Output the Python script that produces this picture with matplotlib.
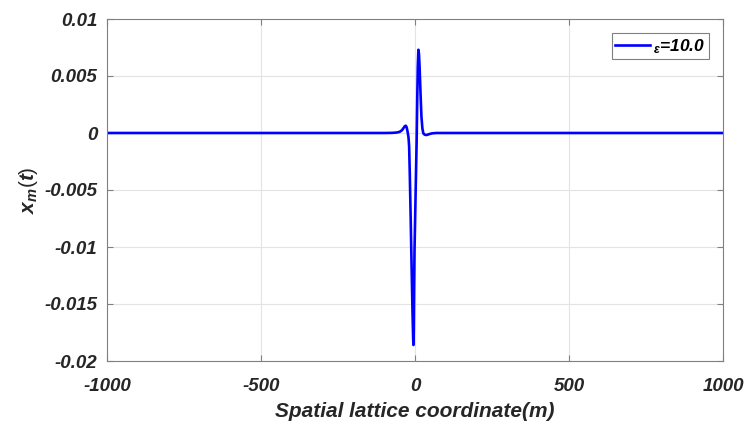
import matplotlib
matplotlib.use("Agg")
import matplotlib.pyplot as plt

# Data
m_vals = [-1000, -100, -75, -60, -50, -42, -37, -33, -30, -27, -24, -21, -19, -17, -14,
          -12, -10, -8, -6, -5, -4, -3, -1.6, 0, 2, 4, 5.4, 7, 9, 11, 13, 15, 17,
          19, 21, 24, 27, 31, 36, 42, 48, 56, 70, 100, 1000]
x_vals = [0, 0, 0.00001, 0.00004, 0.0001, 0.00025, 0.00045, 0.0006, 0.00064, 0.0005,
          0.0001, -0.0004, -0.0012, -0.0035, -0.0075, -0.0104, -0.0131, -0.0158,
          -0.0180, -0.0186, -0.0174, -0.0140, -0.0103, -0.0081, -0.0053, -0.0025,
          -0.0006, 0.0025, 0.0058, 0.0073, 0.0069, 0.0057, 0.0042, 0.0027, 0.0014,
          0.0004, -0.00003, -0.00014, -0.00018, -0.00014, -0.00008, -0.00003, 0, 0, 0]
x_ticks = [-1000, -500, 0, 500, 1000]
y_ticks = [-0.02, -0.015, -0.01, -0.005, 0, 0.005, 0.01]
y_tick_labels = ["-0.02", "-0.015", "-0.01", "-0.005", "0", "0.005", "0.01"]
legend_label = r"${}_{\mathregular{\epsilon}}$=10.0"

plt.rcParams["font.family"] = ["Liberation Sans", "DejaVu Sans"]
plt.rcParams["axes.unicode_minus"] = False
plt.rcParams["mathtext.fontset"] = "custom"
plt.rcParams["mathtext.it"] = "Liberation Sans:italic:bold"
plt.rcParams["mathtext.rm"] = "Liberation Sans"

fig = plt.figure(figsize=(7.51, 4.26), dpi=100)
ax = fig.add_axes([107 / 751, 65 / 426, 616 / 751, 342 / 426])

ax.plot(m_vals, x_vals, color=(0, 0, 1), linewidth=1.9, label=legend_label)
ax.set_xlim(-1000, 1000)
ax.set_ylim(-0.02, 0.01)
ax.set_xticks(x_ticks)
ax.set_xticklabels([str(v) for v in x_ticks])
ax.set_yticks(y_ticks)
ax.set_yticklabels(y_tick_labels)
ax.grid(True, color="#e3e3e3", linewidth=0.8)
ax.set_axisbelow(True)
for s in ax.spines.values():
    s.set_color("#808080")
    s.set_linewidth(0.8)
ax.tick_params(direction="in", length=4, color="#808080", top=True, right=True,
               labelsize=13.5)
ax.tick_params(axis="x", pad=12)
ax.tick_params(axis="y", pad=7)
for lbl in ax.get_xticklabels() + ax.get_yticklabels():
    lbl.set_fontweight("bold")
    lbl.set_fontstyle("italic")
    lbl.set_color("#262626")

ax.set_xlabel("Spatial lattice coordinate(m)", fontsize=15, fontweight="bold",
              fontstyle="italic", color="#262626", labelpad=5)
ax.set_ylabel(r"$x_m(t)$", fontsize=15, color="#262626", labelpad=3)

leg = ax.legend(loc="upper right", bbox_to_anchor=(0.9773, 0.958), fontsize=12.5,
                fancybox=False, framealpha=1, edgecolor="#808080",
                handlelength=2.0, borderpad=0.2, handletextpad=0.2,
                borderaxespad=0)
leg.get_frame().set_linewidth(0.8)
for t in leg.get_texts():
    t.set_fontweight("bold")
    t.set_fontstyle("italic")

fig.savefig("out.png", dpi=100)
